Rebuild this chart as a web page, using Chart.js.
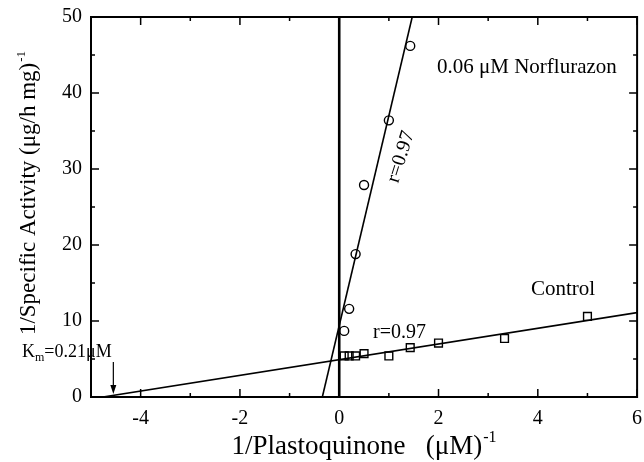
<!DOCTYPE html>
<html><head><meta charset="utf-8">
<script src="https://cdn.jsdelivr.net/npm/chart.js@4.4.0/dist/chart.umd.min.js"></script>
<style>html,body{margin:0;padding:0;background:#fff;}#wrap{width:644px;height:462px;}</style>
</head><body><div id="wrap"><canvas id="c" width="644" height="462"></canvas></div>
<script>
// ---- data ----
const controlX = [0.1, 0.2, 0.33, 0.5, 1.0, 1.43, 2.0, 3.33, 5.0];
const controlY = [5.4, 5.4, 5.4, 5.7, 5.4, 6.5, 7.1, 7.7, 10.6];
const norfX = [0.1, 0.2, 0.33, 0.5, 1.0, 1.43];
const norfY = [8.7, 11.6, 18.8, 27.9, 36.4, 46.2];
const controlFitX = [-4.76, 6];
const controlFitY = [0, 11.1];
const norfFitX = [-0.34, 1.47];
const norfFitY = [0, 50];
const zeroLineX = [0, 0];
const zeroLineY = [0, 50];
const xTicks = [-4, -2, 0, 2, 4, 6];
const xMinorTicks = [-5, -3, -1, 1, 3, 5];
const yTicks = [0, 10, 20, 30, 40, 50];
const yMinorTicks = [5, 15, 25, 35, 45];
const kmArrowX = -4.55;

const FONT = 'Liberation Serif';
const pts = (xs, ys) => xs.map((x, i) => ({x: x, y: ys[i]}));

function drawSup(ctx, main, sup, size) {
  ctx.font = size + 'px "' + FONT + '"';
  const wm = ctx.measureText(main).width;
  const ss = Math.round(size * 0.58);
  ctx.font = ss + 'px "' + FONT + '"';
  const ws = ctx.measureText(sup).width;
  const total = wm + ws + 1;
  ctx.textAlign = 'left';
  ctx.textBaseline = 'alphabetic';
  ctx.font = size + 'px "' + FONT + '"';
  ctx.fillText(main, -total / 2, 0);
  ctx.font = ss + 'px "' + FONT + '"';
  ctx.fillText(sup, -total / 2 + wm + 1, -size * 0.45);
}

const framePlugin = {
  id: 'frame',
  afterDraw(chart) {
    const ctx = chart.ctx;
    const a = chart.chartArea;
    const xs = chart.scales.x, ys = chart.scales.y;
    ctx.save();
    ctx.strokeStyle = '#000';
    ctx.fillStyle = '#000';
    ctx.lineWidth = 2;
    ctx.strokeRect(a.left, a.top, a.right - a.left, a.bottom - a.top);
    ctx.lineWidth = 1.5;
    ctx.beginPath();
    const tx = (v, len) => {
      const p = xs.getPixelForValue(v);
      ctx.moveTo(p, a.bottom); ctx.lineTo(p, a.bottom - len);
      ctx.moveTo(p, a.top); ctx.lineTo(p, a.top + len);
    };
    const ty = (v, len) => {
      const p = ys.getPixelForValue(v);
      ctx.moveTo(a.left, p); ctx.lineTo(a.left + len, p);
      ctx.moveTo(a.right, p); ctx.lineTo(a.right - len, p);
    };
    xTicks.forEach(v => tx(v, 8));
    xMinorTicks.forEach(v => tx(v, 4));
    yTicks.forEach(v => ty(v, 8));
    yMinorTicks.forEach(v => ty(v, 4));
    ctx.stroke();

    // axis titles
    ctx.save();
    ctx.translate((a.left + a.right) / 2, 454);
    drawSup(ctx, '1/Plastoquinone   (\u03bcM)', '-1', 27);
    ctx.restore();
    ctx.save();
    ctx.translate(35, 193);
    ctx.rotate(-Math.PI / 2);
    drawSup(ctx, '1/Specific Activity (\u03bcg/h mg)', '-1', 23);
    ctx.restore();

    // annotations
    ctx.textBaseline = 'alphabetic';
    ctx.textAlign = 'left';
    ctx.font = '21px "' + FONT + '"';
    ctx.fillText('0.06 \u03bcM Norflurazon', 437, 73);
    ctx.fillText('Control', 531, 295);
    ctx.font = '20px "' + FONT + '"';
    ctx.fillText('r=0.97', 373, 338);
    ctx.save();
    ctx.translate(401, 157);
    ctx.rotate(-72.6 * Math.PI / 180);
    ctx.textAlign = 'center';
    ctx.textBaseline = 'middle';
    ctx.fillText('r=0.97', 0, 0);
    ctx.restore();

    // Km label
    ctx.font = '18px "' + FONT + '"';
    ctx.textAlign = 'left';
    ctx.fillText('K', 22, 357);
    const w = ctx.measureText('K').width;
    ctx.font = '12px "' + FONT + '"';
    ctx.fillText('m', 22 + w, 361);
    const w2 = ctx.measureText('m').width;
    ctx.font = '18px "' + FONT + '"';
    ctx.fillText('=0.21\u03bcM', 22 + w + w2, 357);

    // arrow
    const ax = xs.getPixelForValue(kmArrowX);
    const ay0 = 362, ay1 = ys.getPixelForValue(0) - 3;
    ctx.lineWidth = 1.2;
    ctx.beginPath();
    ctx.moveTo(ax, ay0); ctx.lineTo(ax, ay1 - 6);
    ctx.stroke();
    ctx.beginPath();
    ctx.moveTo(ax - 3, ay1 - 9); ctx.lineTo(ax + 3, ay1 - 9); ctx.lineTo(ax, ay1);
    ctx.closePath(); ctx.fill();
    ctx.restore();
  }
};

const tickFont = {family: FONT, size: 20};
new Chart(document.getElementById('c').getContext('2d'), {
  type: 'scatter',
  data: {
    datasets: [
      {label: 'Control fit', data: pts(controlFitX, controlFitY), showLine: true, borderColor: '#000', borderWidth: 1.6, pointRadius: 0},
      {label: 'Norflurazon fit', data: pts(norfFitX, norfFitY), showLine: true, borderColor: '#000', borderWidth: 1.6, pointRadius: 0},
      {label: 'zero', data: pts(zeroLineX, zeroLineY), showLine: true, borderColor: '#000', borderWidth: 2.6, pointRadius: 0},
      {label: 'Control', data: pts(controlX, controlY), pointStyle: 'rect', pointRadius: 5.5, borderColor: '#000', backgroundColor: 'rgba(0,0,0,0)', borderWidth: 1.4},
      {label: '0.06 \u03bcM Norflurazon', data: pts(norfX, norfY), pointStyle: 'circle', pointRadius: 4.5, borderColor: '#000', backgroundColor: 'rgba(0,0,0,0)', borderWidth: 1.4}
    ]
  },
  options: {
    responsive: false, animation: false, devicePixelRatio: 1,
    layout: {padding: {left: 0, right: 3, top: 17, bottom: 0}},
    plugins: {legend: {display: false}, tooltip: {enabled: false}},
    scales: {
      x: {
        type: 'linear', min: -5, max: 6,
        afterBuildTicks: s => { s.ticks = xTicks.map(v => ({value: v})); },
        afterFit: s => { s.height = 65; s.paddingLeft = 0; s.paddingRight = 0; },
        grid: {display: false, drawTicks: false}, border: {display: false},
        ticks: {font: tickFont, color: '#000', padding: 10, maxRotation: 0, autoSkip: false, callback: v => String(v)}
      },
      y: {
        type: 'linear', min: 0, max: 50,
        afterBuildTicks: s => { s.ticks = yTicks.map(v => ({value: v})); },
        afterFit: s => { s.width = 91; s.paddingTop = 0; s.paddingBottom = 0; },
        grid: {display: false, drawTicks: false}, border: {display: false},
        ticks: {font: tickFont, color: '#000', padding: 9, autoSkip: false, callback: v => String(v)}
      }
    }
  },
  plugins: [framePlugin]
});
</script></body></html>
